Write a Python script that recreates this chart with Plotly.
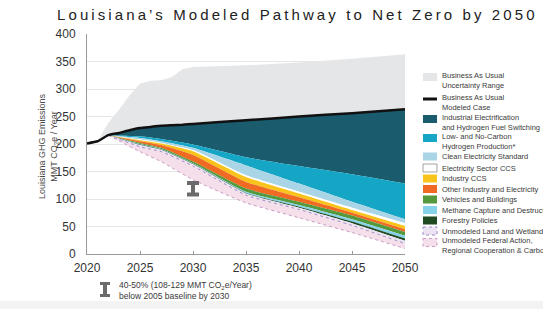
import plotly.graph_objects as go

# ---------------- data ----------------
years_bau = [2020, 2021, 2022, 2023, 2024, 2025, 2026, 2027, 2028, 2029, 2030, 2035, 2040, 2045, 2050]
bau = [201, 205, 216, 220, 225, 229, 231, 233, 234, 235, 236.5, 243, 250, 256, 263]

years_unc = [2021, 2022, 2023, 2024, 2025, 2026, 2027, 2028, 2029, 2030, 2035, 2040, 2045, 2050]
unc_high = [205, 238, 262, 288, 310, 315, 316, 322, 336, 340, 343, 348, 355, 363]

years_path = [2022, 2025, 2027, 2030, 2035, 2040, 2045, 2050]
# lower boundary of each wedge (top of wedge = boundary above it)
industrial_elec = [216, 214, 209, 199, 176, 160, 145, 128]
low_carbon_h2 = [216, 211, 205, 193, 161, 128, 95, 63]
clean_elec_std = [216, 208, 202, 189, 143, 113, 84, 56]
elec_ccs = [216, 207, 201, 187, 140, 110, 80, 51]
industry_ccs = [216, 205, 198, 180, 131, 103, 75, 45]
other_industry = [216, 202, 193, 168, 119, 95, 70, 40]
vehicles_bldg = [216, 200, 191, 165, 113, 89, 63, 33]
methane = [216, 199, 190, 164, 111, 86, 59, 28]
forestry = [216, 198, 189, 163, 110, 84, 56, 24]
land_wetlands = [216, 195, 186, 160, 107, 81, 52, 19]
federal_action = [216, 186, 168, 135, 93, 66, 39, 10]

target_year = [2030]
target_low = [108]
target_high = [129]

x_ticks = [2020, 2025, 2030, 2035, 2040, 2045, 2050]
y_ticks = [0, 50, 100, 150, 200, 250, 300, 350, 400]

layers = [
    ("Industrial Electrification<br>and Hydrogen Fuel Switching", industrial_elec, "#1a5c6e", None),
    ("Low- and No-Carbon<br>Hydrogen Production*", low_carbon_h2, "#15a6c6", None),
    ("Clean Electricity Standard", clean_elec_std, "#a9d5e6", None),
    ("Electricity Sector CCS", elec_ccs, "#ffffff", None),
    ("Industry CCS", industry_ccs, "#f8c31b", None),
    ("Other Industry and Electricity", other_industry, "#f06a24", None),
    ("Vehicles and Buildings", vehicles_bldg, "#55993d", None),
    ("Methane Capture and Destruction", methane, "#86d2e8", None),
    ("Forestry Policies", forestry, "#1f4a22", None),
    ("Unmodeled Land and Wetlands", land_wetlands, "#ebe3f2", "#a08cc8"),
    ("Unmodeled Federal Action,<br>Regional Cooperation & Carbon Removal", federal_action, "#f5dfea", "#c99ac4"),
]

# ---------------- geometry helpers (layout only) ----------------
W, H = 543, 309
L, R, T, B = 87, 405, 34, 254


def px(xp):
    return (xp - L) / (R - L)


def py(yp):
    return (B - yp) / (B - T)


fig = go.Figure()

# uncertainty range
bau_map = dict(zip(years_bau, bau))
fig.add_trace(go.Scatter(x=years_unc, y=[bau_map[y] for y in years_unc], mode="lines",
                         line=dict(width=0), hoverinfo="skip", showlegend=False))
fig.add_trace(go.Scatter(x=years_unc, y=unc_high, mode="lines", fill="tonexty",
                         fillcolor="#e5e6e8", line=dict(width=0, color="#e5e6e8"),
                         name="Business As Usual Uncertainty Range", showlegend=False))

# stacked wedges
fig.add_trace(go.Scatter(x=years_path, y=[bau_map[y] for y in years_path], mode="lines",
                         line=dict(width=0, shape="spline", smoothing=0.5),
                         hoverinfo="skip", showlegend=False))
for name, vals, col, dash_col in layers:
    if dash_col:
        line = dict(width=1, color=dash_col, dash="dot", shape="spline", smoothing=0.5)
    else:
        line = dict(width=0, color=col, shape="spline", smoothing=0.5)
    fig.add_trace(go.Scatter(x=years_path, y=vals, mode="lines", fill="tonexty",
                             fillcolor=col, line=line, name=name, showlegend=False))

# BAU line
fig.add_trace(go.Scatter(x=years_bau, y=bau, mode="lines",
                         line=dict(color="#111111", width=2.5, shape="spline", smoothing=0.4),
                         name="Business As Usual Modeled Case", showlegend=False))

# 2030 target I-bar
mid = [(a + b) / 2 for a, b in zip(target_low, target_high)]
half = [(b - a) / 2 for a, b in zip(target_low, target_high)]
fig.add_trace(go.Scatter(x=target_year, y=mid, mode="markers",
                         marker=dict(size=1, color="rgba(0,0,0,0)"),
                         error_y=dict(type="data", array=half, visible=True,
                                      color="#6b6b6b", thickness=4, width=6),
                         showlegend=False))

shapes = []
annotations = []

LEG_FONT = "Liberation Sans Narrow, Liberation Sans, Arial"

# manual legend
SW_X0, SW_X1, TX = 423, 437, 440
leg_items = [
    ("Business As Usual<br>Uncertainty Range", "box", "#e5e6e8", None, 80.5, 77),
    ("Business As Usual<br>Modeled Case", "line", "#111111", None, 102, 99),
    (layers[0][0], "box", layers[0][2], None, 122, 119),
    (layers[1][0], "box", layers[1][2], None, 141, 138),
    (layers[2][0], "box", layers[2][2], None, 156.5, 156.5),
    (layers[3][0], "box", "#ffffff", "#8a8a8a", 168, 168),
    (layers[4][0], "box", layers[4][2], None, 178.5, 178.5),
    (layers[5][0], "box", layers[5][2], None, 189, 189),
    (layers[6][0], "box", layers[6][2], None, 199.5, 199.5),
    (layers[7][0], "box", layers[7][2], None, 210, 210),
    (layers[8][0], "box", layers[8][2], None, 220.5, 220.5),
    (layers[9][0], "dbox", layers[9][2], layers[9][3], 231, 231),
    (layers[10][0], "dbox", layers[10][2], layers[10][3], 245, 242.5),
]
for text, kind, col, lcol, ty, sy in leg_items:
    if kind == "line":
        shapes.append(dict(type="line", xref="paper", yref="paper",
                           x0=px(SW_X0), x1=px(SW_X1), y0=py(sy), y1=py(sy),
                           line=dict(color=col, width=3)))
    else:
        ln = dict(width=0)
        if kind == "dbox":
            ln = dict(width=1, color=lcol, dash="dot")
        elif lcol:
            ln = dict(width=0.8, color=lcol)
        shapes.append(dict(type="rect", xref="paper", yref="paper",
                           x0=px(SW_X0), x1=px(SW_X1), y0=py(sy - 4), y1=py(sy + 4),
                           fillcolor=col, line=ln))
    annotations.append(dict(text=text, xref="paper", yref="paper", x=px(TX), y=py(ty),
                            xanchor="left", yanchor="middle", align="left", showarrow=False,
                            font=dict(size=7.5, color="#3a3a3a", family=LEG_FONT)))

# y-axis title
annotations.append(dict(text="Louisiana GHG Emissions<br>MMT CO<sub>2</sub>e / Year",
                        xref="paper", yref="paper", x=px(48), y=py(146), textangle=-90,
                        xanchor="center", yanchor="middle", showarrow=False,
                        font=dict(size=9, color="#4a4a4a", family=LEG_FONT)))

# footnote I-bar icon
icon_col = "#6b6b6b"
shapes += [
    dict(type="rect", xref="paper", yref="paper", x0=px(100), x1=px(110), y0=py(285), y1=py(282),
         fillcolor=icon_col, line=dict(width=0)),
    dict(type="rect", xref="paper", yref="paper", x0=px(103), x1=px(107), y0=py(294), y1=py(285),
         fillcolor=icon_col, line=dict(width=0)),
    dict(type="rect", xref="paper", yref="paper", x0=px(100), x1=px(110), y0=py(297), y1=py(294),
         fillcolor=icon_col, line=dict(width=0)),
]
annotations.append(dict(text="40-50% (108-129 MMT CO<sub>2</sub>e/Year)<br>below 2005 baseline by 2030",
                        xref="paper", yref="paper", x=px(117), y=py(290),
                        xanchor="left", yanchor="middle", align="left", showarrow=False,
                        font=dict(size=8.5, color="#3a3a3a", family=LEG_FONT)))

# faint page band at the bottom
shapes.append(dict(type="rect", xref="paper", yref="paper", x0=px(0), x1=px(W),
                   y0=py(309), y1=py(301), fillcolor="#f3f3f3", line=dict(width=0), layer="below"))

title_text = ('<span style="letter-spacing:3.1px">'
              'Louisiana’s Modeled Pathway to Net Zero by 2050</span>')

fig.update_layout(
    width=W, height=H,
    margin=dict(l=L, r=W - R, t=T, b=H - B),
    paper_bgcolor="white", plot_bgcolor="white",
    title=dict(text=title_text, x=57 / W, xanchor="left", xref="container",
               y=1 - 15 / H, yanchor="middle", yref="container",
               font=dict(size=15, color="#222222", family="Liberation Sans, Arial")),
    xaxis=dict(range=[2020, 2050], tickvals=x_ticks, ticks="inside", ticklen=3,
               tickcolor="#999999", showgrid=False, showline=True, linecolor="#9a9a9a",
               linewidth=1, zeroline=False, ticklabelstandoff=3,
               tickfont=dict(size=12, color="#333333", family="Liberation Sans, Arial")),
    yaxis=dict(range=[0, 400], tickvals=y_ticks, ticks="", showgrid=True,
               gridcolor="#e6e6e6", gridwidth=1, showline=True, linecolor="#9a9a9a",
               linewidth=1, zeroline=False, ticklabelstandoff=8,
               tickfont=dict(size=12, color="#333333", family="Liberation Sans, Arial")),
    shapes=shapes,
    annotations=annotations,
    showlegend=False,
)

fig.write_html("out.html", config={"displayModeBar": False},
               post_script="document.body.style.margin='0';")
